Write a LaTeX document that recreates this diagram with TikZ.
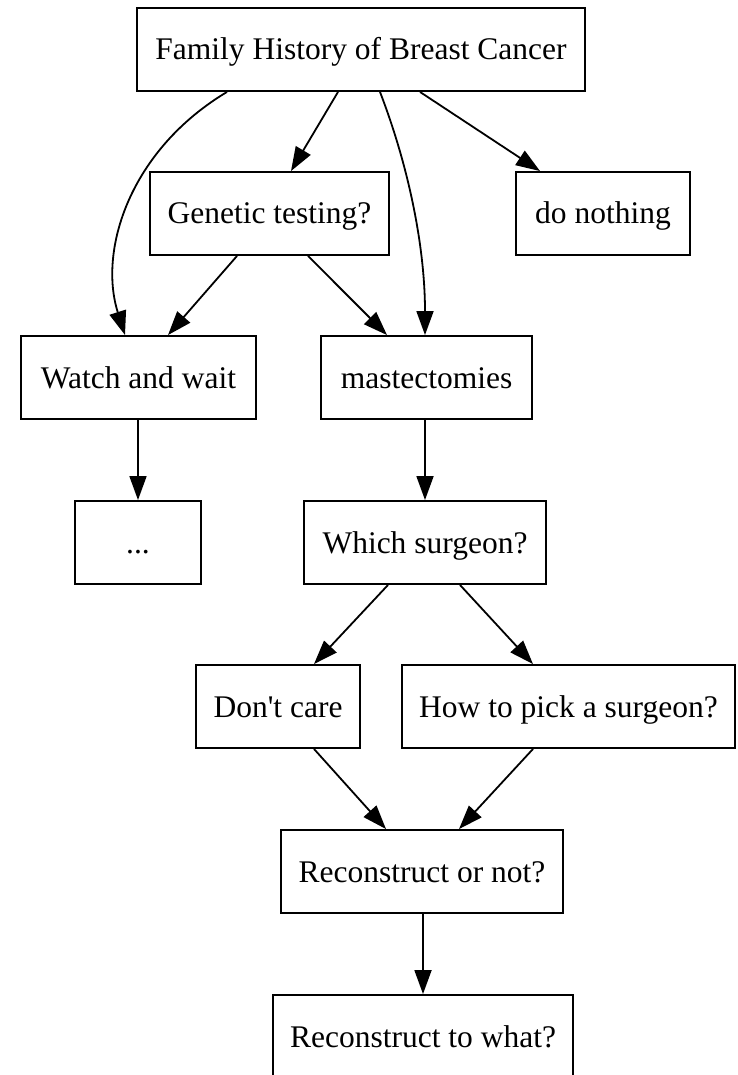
\documentclass[tikz,border=0pt]{standalone}
\usepackage{fontspec}
\setmainfont{Liberation Serif}
\usetikzlibrary{arrows.meta}
\begin{document}
\begin{tikzpicture}[x=1pt,y=-1pt,
  box/.style={draw, line width=1.9pt, rectangle, inner sep=0pt,
    minimum height=83pt, text height=21pt, text depth=0pt,
    font=\fontsize{31.5}{38}\selectfont},
  edge/.style={line width=1.8pt, -{Triangle[length=24pt,width=17pt]}}]
  \clip (0,0) rectangle (738,1075);
  \fill[white] (0,0) rectangle (738,1075);

  % decision nodes
  \node[box, minimum width=448pt] (top)   at (361,49.5)    {Family History of Breast Cancer};
  \node[box, minimum width=239pt] (gen)   at (269.5,213.5) {Genetic testing?};
  \node[box, minimum width=174pt] (none)  at (603,213.5)   {do nothing};
  \node[box, minimum width=235pt] (watch) at (138.5,377.5) {Watch and wait};
  \node[box, minimum width=211pt] (mast)  at (426.5,377.5) {mastectomies};
  \node[box, minimum width=126pt] (dots)  at (138,542.5)   {...};
  \node[box, minimum width=242pt] (which) at (425,542.5)   {Which surgeon?};
  \node[box, minimum width=164pt] (dont)  at (278,706.5)   {Don\textquotesingle t care};
  \node[box, minimum width=333pt] (how)   at (568.5,706.5) {How to pick a surgeon?};
  \node[box, minimum width=282pt] (recon) at (422,871.5)   {Reconstruct or not?};
  \node[box, minimum width=300pt] (what)  at (423,1036.5)  {Reconstruct to what?};

  % connectors
  \draw[edge] ([xshift=-134pt]top.south) .. controls (130,150) and (98,250) .. ([xshift=-13.5pt]watch.north);
  \draw[edge] ([xshift=19pt]top.south) .. controls (410,170) and (425,250) .. ([xshift=-1.5pt]mast.north);
  \draw[edge] ([xshift=-23pt]top.south) -- ([xshift=21.5pt]gen.north);
  \draw[edge] ([xshift=59pt]top.south) -- ([xshift=-63pt]none.north);
  \draw[edge] ([xshift=-32.5pt]gen.south) -- ([xshift=29.5pt]watch.north);
  \draw[edge] ([xshift=38.5pt]gen.south) -- ([xshift=-39.5pt]mast.north);
  \draw[edge] (dots.north |- watch.south) -- (dots.north);
  \draw[edge] (which.north |- mast.south) -- (which.north);
  \draw[edge] ([xshift=-37pt]which.south) -- ([xshift=36pt]dont.north);
  \draw[edge] ([xshift=35pt]which.south) -- ([xshift=-35.5pt]how.north);
  \draw[edge] ([xshift=36pt]dont.south) -- ([xshift=-36pt]recon.north);
  \draw[edge] ([xshift=-35.5pt]how.south) -- ([xshift=37pt]recon.north);
  \draw[edge] (what.north |- recon.south) -- (what.north);
\end{tikzpicture}
\end{document}
